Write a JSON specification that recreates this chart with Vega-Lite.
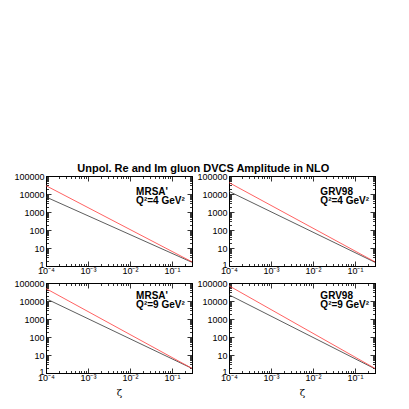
{
  "$schema": "https://vega.github.io/schema/vega-lite/v6.json",
  "padding": {"left": 13, "top": 162, "right": 5, "bottom": 5},
  "title": {"text": "Unpol. Re and Im gluon DVCS Amplitude in NLO", "fontSize": 11, "fontWeight": "bold", "font": "Liberation Sans", "anchor": "middle", "offset": -2, "dx": 8},
  "datasets": {
    "curves": [
      {"panel": "MRSA4", "series": "Re", "xi": 0.0001, "amp": 6800},
      {"panel": "MRSA4", "series": "Re", "xi": 0.3, "amp": 1.6},
      {"panel": "MRSA4", "series": "Im", "xi": 0.0001, "amp": 29000},
      {"panel": "MRSA4", "series": "Im", "xi": 0.3, "amp": 1.7},
      {"panel": "GRV4", "series": "Re", "xi": 0.0001, "amp": 14000},
      {"panel": "GRV4", "series": "Re", "xi": 0.3, "amp": 1.6},
      {"panel": "GRV4", "series": "Im", "xi": 0.0001, "amp": 43000},
      {"panel": "GRV4", "series": "Im", "xi": 0.3, "amp": 1.7},
      {"panel": "MRSA9", "series": "Re", "xi": 0.0001, "amp": 13500},
      {"panel": "MRSA9", "series": "Re", "xi": 0.3, "amp": 1.8},
      {"panel": "MRSA9", "series": "Im", "xi": 0.0001, "amp": 49000},
      {"panel": "MRSA9", "series": "Im", "xi": 0.3, "amp": 1.8},
      {"panel": "GRV9", "series": "Re", "xi": 0.0001, "amp": 22000},
      {"panel": "GRV9", "series": "Re", "xi": 0.3, "amp": 1.7},
      {"panel": "GRV9", "series": "Im", "xi": 0.0001, "amp": 70000},
      {"panel": "GRV9", "series": "Im", "xi": 0.3, "amp": 1.8}
    ],
    "notes": [
      {"panel": "MRSA4", "label": "MRSA'", "xi": 0.014, "amp": 13000},
      {"panel": "MRSA4", "label": "Q²=4 GeV²", "xi": 0.014, "amp": 4200},
      {"panel": "GRV4", "label": "GRV98", "xi": 0.015, "amp": 13000},
      {"panel": "GRV4", "label": "Q²=4 GeV²", "xi": 0.015, "amp": 4200},
      {"panel": "MRSA9", "label": "MRSA'", "xi": 0.014, "amp": 18000},
      {"panel": "MRSA9", "label": "Q²=9 GeV²", "xi": 0.014, "amp": 6000},
      {"panel": "GRV9", "label": "GRV98", "xi": 0.015, "amp": 18000},
      {"panel": "GRV9", "label": "Q²=9 GeV²", "xi": 0.015, "amp": 6000}
    ]
  },
  "columns": 2,
  "spacing": {"column": 1, "row": 0},
  "concat": [
    {
      "width": 146, "height": 90,
      "layer": [
        {
          "data": {"name": "curves"},
          "transform": [{"filter": "datum.panel === 'MRSA4'"}],
          "mark": {"type": "line", "strokeWidth": 0.8},
          "encoding": {
            "x": {"field": "xi", "type": "quantitative", "scale": {"type": "log", "domain": [0.0001, 0.3], "nice": false},
              "axis": {"orient": "bottom", "title": null, "labelPadding": 5, "values": [0.0001,0.0002,0.0003,0.0004,0.0005,0.0006,0.0007,0.0008,0.0009,0.001,0.002,0.003,0.004,0.005,0.006,0.007,0.008,0.009,0.01,0.02,0.03,0.04,0.05,0.06,0.07,0.08,0.09,0.1,0.2,0.3],
                "labelExpr": "abs(log(datum.value)/LN10 - round(log(datum.value)/LN10)) < 0.001 ? '10' + (round(log(datum.value)/LN10) == -4 ? '⁻⁴' : round(log(datum.value)/LN10) == -3 ? '⁻³' : round(log(datum.value)/LN10) == -2 ? '⁻²' : '⁻¹') : ''",
                "tickSize": {"condition": {"test": "abs(log(datum.value)/LN10 - round(log(datum.value)/LN10)) < 0.001", "value": -5}, "value": -2.5}}},
            "y": {"field": "amp", "type": "quantitative", "scale": {"type": "log", "domain": [1, 100000], "nice": false},
              "axis": {"orient": "left", "title": null, "values": [1,2,3,4,5,6,7,8,9,10,20,30,40,50,60,70,80,90,100,200,300,400,500,600,700,800,900,1000,2000,3000,4000,5000,6000,7000,8000,9000,10000,20000,30000,40000,50000,60000,70000,80000,90000,100000],
                "labelExpr": "abs(log(datum.value)/LN10 - round(log(datum.value)/LN10)) < 0.001 ? format(datum.value, 'd') : ''",
                "labelOffset": {"condition": {"test": "datum.value == 1", "value": -2}, "value": 0},
                "tickSize": {"condition": {"test": "abs(log(datum.value)/LN10 - round(log(datum.value)/LN10)) < 0.001", "value": -5}, "value": -2.5}}},
            "color": {"field": "series", "type": "nominal", "scale": {"domain": ["Re", "Im"], "range": ["#333333", "#ff3a3a"]}, "legend": null}
          }
        },
        {
          "data": {"name": "notes"},
          "transform": [{"filter": "datum.panel === 'MRSA4'"}],
          "mark": {"type": "text", "align": "left", "baseline": "middle", "fontWeight": "bold", "fontSize": 10, "font": "Liberation Sans", "color": "black"},
          "encoding": {
            "x": {"field": "xi", "type": "quantitative", "axis": {"orient": "top", "title": null, "labels": false, "values": [0.0001,0.0002,0.0003,0.0004,0.0005,0.0006,0.0007,0.0008,0.0009,0.001,0.002,0.003,0.004,0.005,0.006,0.007,0.008,0.009,0.01,0.02,0.03,0.04,0.05,0.06,0.07,0.08,0.09,0.1,0.2,0.3],
              "tickSize": {"condition": {"test": "abs(log(datum.value)/LN10 - round(log(datum.value)/LN10)) < 0.001", "value": -5}, "value": -2.5}}},
            "y": {"field": "amp", "type": "quantitative", "axis": {"orient": "right", "title": null, "labels": false, "values": [1,2,3,4,5,6,7,8,9,10,20,30,40,50,60,70,80,90,100,200,300,400,500,600,700,800,900,1000,2000,3000,4000,5000,6000,7000,8000,9000,10000,20000,30000,40000,50000,60000,70000,80000,90000,100000],
              "tickSize": {"condition": {"test": "abs(log(datum.value)/LN10 - round(log(datum.value)/LN10)) < 0.001", "value": -5}, "value": -2.5}}},
            "text": {"field": "label"}
          }
        }
      ],
      "resolve": {"axis": {"x": "independent", "y": "independent"}}
    },
    {
      "width": 146, "height": 90,
      "layer": [
        {
          "data": {"name": "curves"},
          "transform": [{"filter": "datum.panel === 'GRV4'"}],
          "mark": {"type": "line", "strokeWidth": 0.8},
          "encoding": {
            "x": {"field": "xi", "type": "quantitative", "scale": {"type": "log", "domain": [0.0001, 0.3], "nice": false},
              "axis": {"orient": "bottom", "title": null, "labelPadding": 5, "values": [0.0001,0.0002,0.0003,0.0004,0.0005,0.0006,0.0007,0.0008,0.0009,0.001,0.002,0.003,0.004,0.005,0.006,0.007,0.008,0.009,0.01,0.02,0.03,0.04,0.05,0.06,0.07,0.08,0.09,0.1,0.2,0.3],
                "labelExpr": "abs(log(datum.value)/LN10 - round(log(datum.value)/LN10)) < 0.001 ? '10' + (round(log(datum.value)/LN10) == -4 ? '⁻⁴' : round(log(datum.value)/LN10) == -3 ? '⁻³' : round(log(datum.value)/LN10) == -2 ? '⁻²' : '⁻¹') : ''",
                "tickSize": {"condition": {"test": "abs(log(datum.value)/LN10 - round(log(datum.value)/LN10)) < 0.001", "value": -5}, "value": -2.5}}},
            "y": {"field": "amp", "type": "quantitative", "scale": {"type": "log", "domain": [1, 100000], "nice": false},
              "axis": {"orient": "left", "title": null, "values": [1,2,3,4,5,6,7,8,9,10,20,30,40,50,60,70,80,90,100,200,300,400,500,600,700,800,900,1000,2000,3000,4000,5000,6000,7000,8000,9000,10000,20000,30000,40000,50000,60000,70000,80000,90000,100000],
                "labelExpr": "abs(log(datum.value)/LN10 - round(log(datum.value)/LN10)) < 0.001 ? format(datum.value, 'd') : ''",
                "labelOffset": {"condition": {"test": "datum.value == 1", "value": -2}, "value": 0},
                "tickSize": {"condition": {"test": "abs(log(datum.value)/LN10 - round(log(datum.value)/LN10)) < 0.001", "value": -5}, "value": -2.5}}},
            "color": {"field": "series", "type": "nominal", "scale": {"domain": ["Re", "Im"], "range": ["#333333", "#ff3a3a"]}, "legend": null}
          }
        },
        {
          "data": {"name": "notes"},
          "transform": [{"filter": "datum.panel === 'GRV4'"}],
          "mark": {"type": "text", "align": "left", "baseline": "middle", "fontWeight": "bold", "fontSize": 10, "font": "Liberation Sans", "color": "black"},
          "encoding": {
            "x": {"field": "xi", "type": "quantitative", "axis": {"orient": "top", "title": null, "labels": false, "values": [0.0001,0.0002,0.0003,0.0004,0.0005,0.0006,0.0007,0.0008,0.0009,0.001,0.002,0.003,0.004,0.005,0.006,0.007,0.008,0.009,0.01,0.02,0.03,0.04,0.05,0.06,0.07,0.08,0.09,0.1,0.2,0.3],
              "tickSize": {"condition": {"test": "abs(log(datum.value)/LN10 - round(log(datum.value)/LN10)) < 0.001", "value": -5}, "value": -2.5}}},
            "y": {"field": "amp", "type": "quantitative", "axis": {"orient": "right", "title": null, "labels": false, "values": [1,2,3,4,5,6,7,8,9,10,20,30,40,50,60,70,80,90,100,200,300,400,500,600,700,800,900,1000,2000,3000,4000,5000,6000,7000,8000,9000,10000,20000,30000,40000,50000,60000,70000,80000,90000,100000],
              "tickSize": {"condition": {"test": "abs(log(datum.value)/LN10 - round(log(datum.value)/LN10)) < 0.001", "value": -5}, "value": -2.5}}},
            "text": {"field": "label"}
          }
        }
      ],
      "resolve": {"axis": {"x": "independent", "y": "independent"}}
    },
    {
      "width": 146, "height": 90,
      "layer": [
        {
          "data": {"name": "curves"},
          "transform": [{"filter": "datum.panel === 'MRSA9'"}],
          "mark": {"type": "line", "strokeWidth": 0.8},
          "encoding": {
            "x": {"field": "xi", "type": "quantitative", "scale": {"type": "log", "domain": [0.0001, 0.3], "nice": false},
              "axis": {"orient": "bottom", "title": "ζ", "labelPadding": 5, "values": [0.0001,0.0002,0.0003,0.0004,0.0005,0.0006,0.0007,0.0008,0.0009,0.001,0.002,0.003,0.004,0.005,0.006,0.007,0.008,0.009,0.01,0.02,0.03,0.04,0.05,0.06,0.07,0.08,0.09,0.1,0.2,0.3],
                "labelExpr": "abs(log(datum.value)/LN10 - round(log(datum.value)/LN10)) < 0.001 ? '10' + (round(log(datum.value)/LN10) == -4 ? '⁻⁴' : round(log(datum.value)/LN10) == -3 ? '⁻³' : round(log(datum.value)/LN10) == -2 ? '⁻²' : '⁻¹') : ''",
                "tickSize": {"condition": {"test": "abs(log(datum.value)/LN10 - round(log(datum.value)/LN10)) < 0.001", "value": -5}, "value": -2.5}}},
            "y": {"field": "amp", "type": "quantitative", "scale": {"type": "log", "domain": [1, 100000], "nice": false},
              "axis": {"orient": "left", "title": null, "values": [1,2,3,4,5,6,7,8,9,10,20,30,40,50,60,70,80,90,100,200,300,400,500,600,700,800,900,1000,2000,3000,4000,5000,6000,7000,8000,9000,10000,20000,30000,40000,50000,60000,70000,80000,90000,100000],
                "labelExpr": "abs(log(datum.value)/LN10 - round(log(datum.value)/LN10)) < 0.001 ? format(datum.value, 'd') : ''",
                "labelOffset": {"condition": {"test": "datum.value == 1", "value": -2}, "value": 0},
                "tickSize": {"condition": {"test": "abs(log(datum.value)/LN10 - round(log(datum.value)/LN10)) < 0.001", "value": -5}, "value": -2.5}}},
            "color": {"field": "series", "type": "nominal", "scale": {"domain": ["Re", "Im"], "range": ["#333333", "#ff3a3a"]}, "legend": null}
          }
        },
        {
          "data": {"name": "notes"},
          "transform": [{"filter": "datum.panel === 'MRSA9'"}],
          "mark": {"type": "text", "align": "left", "baseline": "middle", "fontWeight": "bold", "fontSize": 10, "font": "Liberation Sans", "color": "black"},
          "encoding": {
            "x": {"field": "xi", "type": "quantitative", "axis": {"orient": "top", "title": null, "labels": false, "values": [0.0001,0.0002,0.0003,0.0004,0.0005,0.0006,0.0007,0.0008,0.0009,0.001,0.002,0.003,0.004,0.005,0.006,0.007,0.008,0.009,0.01,0.02,0.03,0.04,0.05,0.06,0.07,0.08,0.09,0.1,0.2,0.3],
              "tickSize": {"condition": {"test": "abs(log(datum.value)/LN10 - round(log(datum.value)/LN10)) < 0.001", "value": -5}, "value": -2.5}}},
            "y": {"field": "amp", "type": "quantitative", "axis": {"orient": "right", "title": null, "labels": false, "values": [1,2,3,4,5,6,7,8,9,10,20,30,40,50,60,70,80,90,100,200,300,400,500,600,700,800,900,1000,2000,3000,4000,5000,6000,7000,8000,9000,10000,20000,30000,40000,50000,60000,70000,80000,90000,100000],
              "tickSize": {"condition": {"test": "abs(log(datum.value)/LN10 - round(log(datum.value)/LN10)) < 0.001", "value": -5}, "value": -2.5}}},
            "text": {"field": "label"}
          }
        }
      ],
      "resolve": {"axis": {"x": "independent", "y": "independent"}}
    },
    {
      "width": 146, "height": 90,
      "layer": [
        {
          "data": {"name": "curves"},
          "transform": [{"filter": "datum.panel === 'GRV9'"}],
          "mark": {"type": "line", "strokeWidth": 0.8},
          "encoding": {
            "x": {"field": "xi", "type": "quantitative", "scale": {"type": "log", "domain": [0.0001, 0.3], "nice": false},
              "axis": {"orient": "bottom", "title": "ζ", "labelPadding": 5, "values": [0.0001,0.0002,0.0003,0.0004,0.0005,0.0006,0.0007,0.0008,0.0009,0.001,0.002,0.003,0.004,0.005,0.006,0.007,0.008,0.009,0.01,0.02,0.03,0.04,0.05,0.06,0.07,0.08,0.09,0.1,0.2,0.3],
                "labelExpr": "abs(log(datum.value)/LN10 - round(log(datum.value)/LN10)) < 0.001 ? '10' + (round(log(datum.value)/LN10) == -4 ? '⁻⁴' : round(log(datum.value)/LN10) == -3 ? '⁻³' : round(log(datum.value)/LN10) == -2 ? '⁻²' : '⁻¹') : ''",
                "tickSize": {"condition": {"test": "abs(log(datum.value)/LN10 - round(log(datum.value)/LN10)) < 0.001", "value": -5}, "value": -2.5}}},
            "y": {"field": "amp", "type": "quantitative", "scale": {"type": "log", "domain": [1, 100000], "nice": false},
              "axis": {"orient": "left", "title": null, "values": [1,2,3,4,5,6,7,8,9,10,20,30,40,50,60,70,80,90,100,200,300,400,500,600,700,800,900,1000,2000,3000,4000,5000,6000,7000,8000,9000,10000,20000,30000,40000,50000,60000,70000,80000,90000,100000],
                "labelExpr": "abs(log(datum.value)/LN10 - round(log(datum.value)/LN10)) < 0.001 ? format(datum.value, 'd') : ''",
                "labelOffset": {"condition": {"test": "datum.value == 1", "value": -2}, "value": 0},
                "tickSize": {"condition": {"test": "abs(log(datum.value)/LN10 - round(log(datum.value)/LN10)) < 0.001", "value": -5}, "value": -2.5}}},
            "color": {"field": "series", "type": "nominal", "scale": {"domain": ["Re", "Im"], "range": ["#333333", "#ff3a3a"]}, "legend": null}
          }
        },
        {
          "data": {"name": "notes"},
          "transform": [{"filter": "datum.panel === 'GRV9'"}],
          "mark": {"type": "text", "align": "left", "baseline": "middle", "fontWeight": "bold", "fontSize": 10, "font": "Liberation Sans", "color": "black"},
          "encoding": {
            "x": {"field": "xi", "type": "quantitative", "axis": {"orient": "top", "title": null, "labels": false, "values": [0.0001,0.0002,0.0003,0.0004,0.0005,0.0006,0.0007,0.0008,0.0009,0.001,0.002,0.003,0.004,0.005,0.006,0.007,0.008,0.009,0.01,0.02,0.03,0.04,0.05,0.06,0.07,0.08,0.09,0.1,0.2,0.3],
              "tickSize": {"condition": {"test": "abs(log(datum.value)/LN10 - round(log(datum.value)/LN10)) < 0.001", "value": -5}, "value": -2.5}}},
            "y": {"field": "amp", "type": "quantitative", "axis": {"orient": "right", "title": null, "labels": false, "values": [1,2,3,4,5,6,7,8,9,10,20,30,40,50,60,70,80,90,100,200,300,400,500,600,700,800,900,1000,2000,3000,4000,5000,6000,7000,8000,9000,10000,20000,30000,40000,50000,60000,70000,80000,90000,100000],
              "tickSize": {"condition": {"test": "abs(log(datum.value)/LN10 - round(log(datum.value)/LN10)) < 0.001", "value": -5}, "value": -2.5}}},
            "text": {"field": "label"}
          }
        }
      ],
      "resolve": {"axis": {"x": "independent", "y": "independent"}}
    }
  ],
  "config": {
    "view": {"stroke": "black", "strokeWidth": 1},
    "axis": {
      "grid": false, "domainColor": "black", "domainWidth": 1, "tickColor": "black", "tickWidth": 0.8,
      "labelFont": "Liberation Sans", "labelFontSize": 9, "labelColor": "black", "labelPadding": 7,
      "labelOverlap": false, "labelFlush": false, "labelBound": false,
      "titleFont": "DejaVu Serif", "titleFontSize": 10, "titleFontWeight": "normal", "titleColor": "black", "titlePadding": 3
    }
  }
}
